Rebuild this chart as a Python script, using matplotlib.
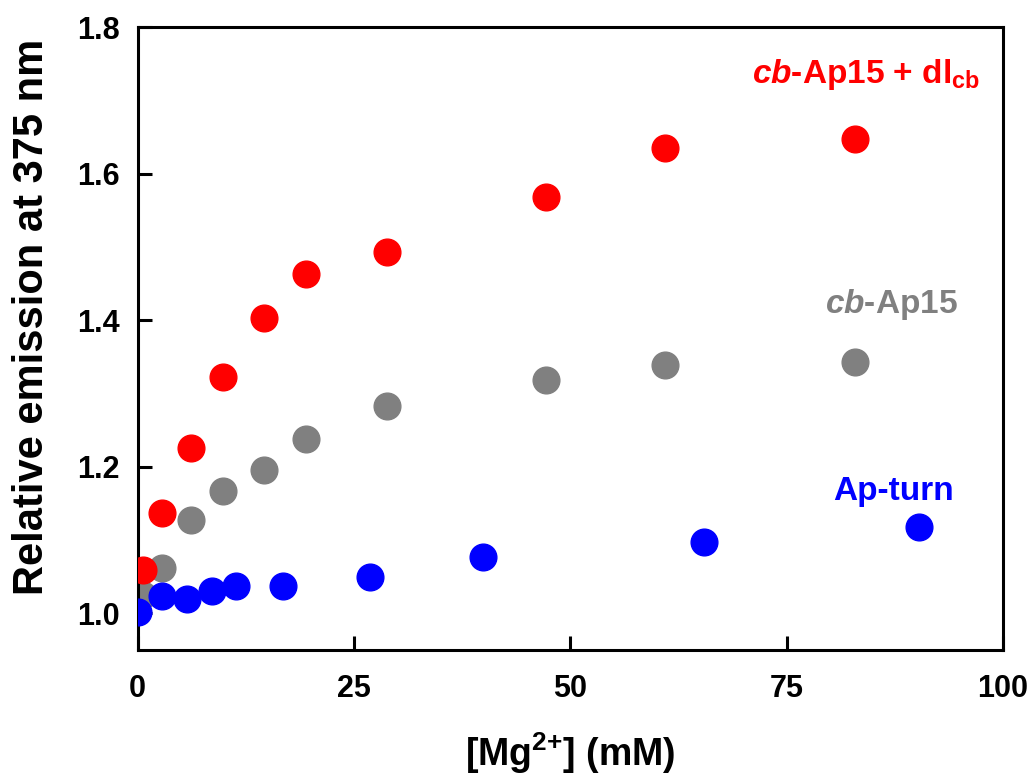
import matplotlib.pyplot as plt

# data
mg_ap15 = [0.65, 2.8, 6.1, 9.9, 14.6, 19.4, 28.8, 47.2, 60.9, 82.9]
dl_ap15 = [1.059, 1.137, 1.226, 1.322, 1.403, 1.463, 1.493, 1.568, 1.635, 1.647]
cb_ap15 = [1.025, 1.062, 1.127, 1.167, 1.195, 1.238, 1.283, 1.318, 1.339, 1.343]
mg_turn = [0.0, 2.8, 5.7, 8.6, 11.3, 16.8, 26.9, 39.9, 65.4, 90.3]
ap_turn = [1.002, 1.024, 1.019, 1.031, 1.038, 1.038, 1.050, 1.077, 1.098, 1.118]

plt.rcParams['font.family'] = ['Liberation Sans', 'DejaVu Sans']
plt.rcParams['font.weight'] = 'bold'
plt.rcParams['mathtext.fontset'] = 'custom'
plt.rcParams['mathtext.rm'] = 'Liberation Sans:bold'
plt.rcParams['mathtext.it'] = 'Liberation Sans:bold:italic'
plt.rcParams['mathtext.bf'] = 'Liberation Sans:bold'

fig = plt.figure(figsize=(10.34, 7.79), dpi=100)
ax = fig.add_axes([0.1332, 0.1656, 0.8368, 0.7997])

ax.scatter(mg_ap15, cb_ap15, s=370, color='#808080', zorder=2)
ax.scatter(mg_ap15, dl_ap15, s=370, color='#ff0000', zorder=3)
ax.scatter(mg_turn, ap_turn, s=370, color='#0000ff', zorder=4)

ax.set_xlim(0, 100)
ax.set_ylim(0.95, 1.8)
ax.set_xticks([0, 25, 50, 75, 100])
ax.set_yticks([1.0, 1.2, 1.4, 1.6, 1.8])
ax.set_yticklabels(['1.0', '1.2', '1.4', '1.6', '1.8'])
ax.tick_params(direction='in', length=10, width=2.2, labelsize=22)
ax.tick_params(axis='x', pad=17)
ax.tick_params(axis='y', pad=13)
for s in ax.spines.values():
    s.set_linewidth(2.2)

ax.set_xlabel('[Mg$^{2{+}}$] (mM)', fontsize=27, fontweight='bold', labelpad=19)
ax.set_ylabel('Relative emission at 375 nm', fontsize=30, fontweight='bold')
ax.yaxis.set_label_coords(-0.099, 0.534)

ax.text(71.0, 1.7236, r'$\it{cb}$-Ap15 + dl$_{\rm cb}$', color='#ff0000',
        fontsize=24, ha='left', va='baseline')
ax.text(79.4, 1.4098, r'$\it{cb}$-Ap15', color='#808080',
        fontsize=24, ha='left', va='baseline')
ax.text(80.4, 1.1547, 'Ap-turn', color='#0000ff',
        fontsize=24, ha='left', va='baseline')

fig.savefig('out.png', dpi=100)
